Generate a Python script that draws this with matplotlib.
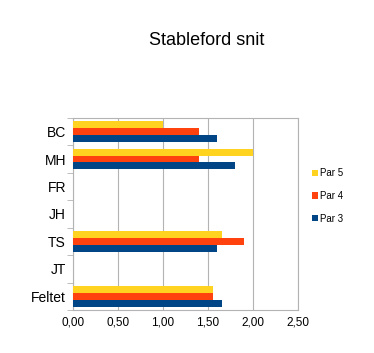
import matplotlib
matplotlib.use("Agg")
import matplotlib.pyplot as plt
import numpy as np

categories = ["BC", "MH", "FR", "JH", "TS", "JT", "Feltet"]
par5 = [1.00, 2.00, 0, 0, 1.66, 0, 1.55]
par4 = [1.40, 1.40, 0, 0, 1.90, 0, 1.56]
par3 = [1.60, 1.80, 0, 0, 1.60, 0, 1.66]
xticks = [0, 0.5, 1.0, 1.5, 2.0, 2.5]
xticklabels = ["0,00", "0,50", "1,00", "1,50", "2,00", "2,50"]

plt.rcParams['font.family'] = ['Liberation Sans', 'DejaVu Sans']
fig = plt.figure(figsize=(3.74, 3.53), dpi=100)
ax = fig.add_axes([0.195, 0.122, 0.602, 0.544])

y = np.arange(len(categories))
h = 0.25
ax.barh(y - h, par5, height=h, color="#FFD320", label="Par 5", zorder=3)
ax.barh(y, par4, height=h, color="#FF420E", label="Par 4", zorder=3)
ax.barh(y + h, par3, height=h, color="#004586", label="Par 3", zorder=3)

ax.set_ylim(len(categories) - 0.5, -0.5)
ax.set_xlim(0, 2.5)
ax.set_yticks(y)
ax.set_yticklabels(categories, fontsize=10)
ax.set_yticks(np.arange(-0.5, len(categories), 1), minor=True)
ax.tick_params(axis='y', which='major', length=0, pad=5)
ax.tick_params(axis='y', which='minor', length=4, color="#b3b3b3", direction='out')
ax.set_xticks(xticks)
ax.set_xticklabels(xticklabels, fontsize=8.5)
ax.tick_params(axis='x', length=0, pad=5)
ax.grid(axis='x', color="#b3b3b3", linewidth=0.8, zorder=0)
for s in ax.spines.values():
    s.set_color("#b3b3b3")
    s.set_linewidth(0.8)

fig.text(0.553, 0.885, "Stableford snit", ha="center", va="center", fontsize=13)

leg = fig.legend(loc="upper left", bbox_to_anchor=(0.81, 0.548), frameon=False,
                 fontsize=7, handlelength=0.6, handleheight=0.6, handletextpad=0.3,
                 labelspacing=1.3)

fig.savefig("out.png", dpi=100)
